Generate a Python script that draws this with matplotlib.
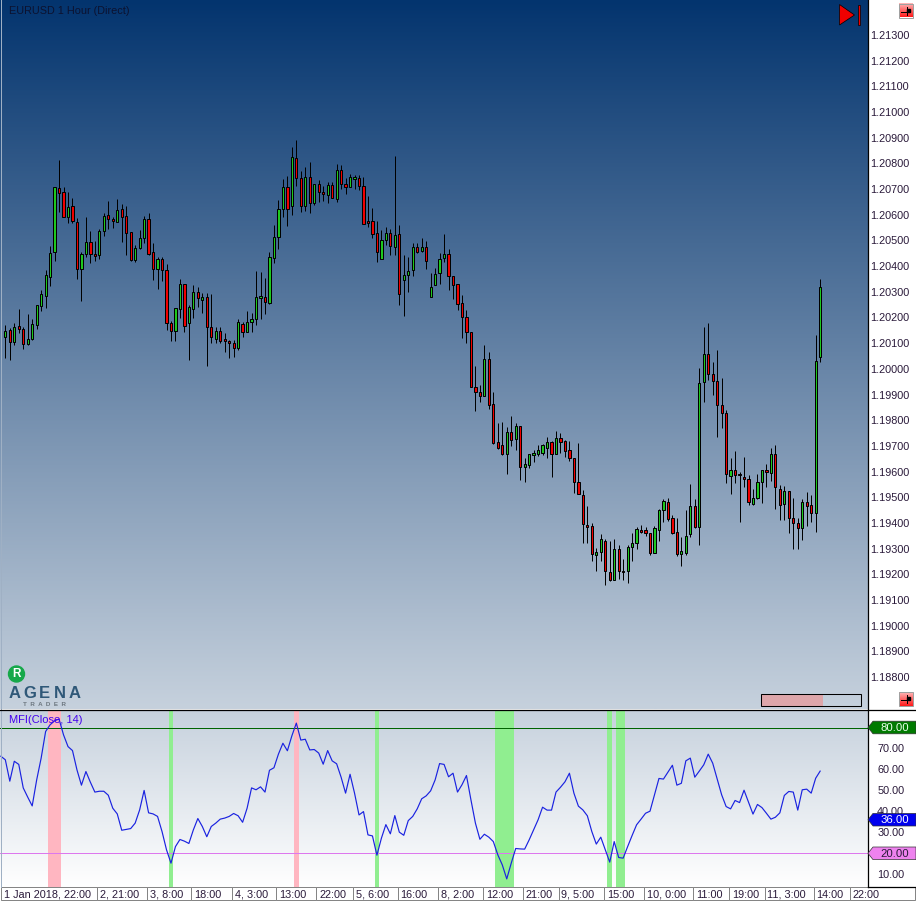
import numpy as np
import matplotlib
matplotlib.use("Agg")
import matplotlib.pyplot as plt
from matplotlib.patches import Polygon, Rectangle, Circle

# Prices are in points (1e-5)
highs = [
    120171, 120158, 120177, 120232, 120164, 120212, 120193, 120247, 120307, 120385,
    120478, 120709, 120813, 120707, 120689, 120664, 120589, 120456, 120590, 120537,
    120498, 120543, 120605, 120654, 120590, 120661, 120641, 120633, 120532, 120481,
    120541, 120595, 120607, 120489, 120437, 120434, 120407, 120188, 120236, 120349,
    120329, 120249, 120326, 120317, 120297, 120297, 120291, 120162, 120162, 120138,
    120112, 120112, 120193, 120181, 120224, 120216, 120380, 120376, 120352, 120456,
    120560, 120656, 120738, 120751, 120865, 120891, 120770, 120785, 120804, 120720,
    120735, 120712, 120728, 120728, 120796, 120792, 120742, 120757, 120753, 120753,
    120746, 120673, 120625, 120574, 120539, 120551, 120543, 120829, 120559, 120442,
    120434, 120489, 120489, 120508, 120496, 120372, 120391, 120450, 120524, 120465,
    120360, 120329, 120286, 120228, 120145, 120010, 119936, 120092, 120065, 119908,
    119788, 119792, 119773, 119818, 119788, 119776, 119654, 119670, 119683, 119703,
    119706, 119734, 119718, 119757, 119749, 119722, 119718, 119652, 119710, 119527,
    119465, 119399, 119301, 119356, 119336, 119329, 119336, 119313, 119259, 119313,
    119360, 119383, 119391, 119383, 119360, 119388, 119453, 119492, 119496, 119430,
    119418, 119347, 119449, 119550, 119492, 120002, 120162, 120177, 120025, 120072,
    119963, 119839, 119652, 119679, 119597, 119656, 119585, 119531, 119589, 119605,
    119628, 119691, 119702, 119546, 119543, 119523, 119496, 119418, 119492, 119519,
    119508, 120131, 120349,
]
lows = [
    120044, 120034, 120093, 120141, 120079, 120093, 120112, 120155, 120225, 120238,
    120324, 120421, 120612, 120590, 120569, 120569, 120351, 120265, 120437, 120413,
    120421, 120429, 120517, 120546, 120550, 120573, 120495, 120445, 120421, 120417,
    120465, 120489, 120442, 120347, 120312, 120343, 120151, 120110, 120110, 120198,
    120145, 120034, 120198, 120242, 120219, 120012, 120102, 120102, 120102, 120067,
    120044, 120047, 120075, 120125, 120145, 120145, 120171, 120193, 120215, 120251,
    120413, 120468, 120593, 120557, 120600, 120713, 120612, 120616, 120608, 120639,
    120651, 120655, 120647, 120664, 120651, 120702, 120682, 120709, 120702, 120698,
    120565, 120554, 120511, 120417, 120429, 120482, 120445, 120445, 120250, 120207,
    120300, 120363, 120450, 120456, 120390, 120278, 120325, 120332, 120416, 120308,
    120273, 120230, 120121, 120102, 119931, 119834, 119871, 119896, 119845, 119709,
    119686, 119665, 119592, 119700, 119684, 119567, 119561, 119612, 119639, 119662,
    119666, 119651, 119580, 119670, 119674, 119658, 119643, 119518, 119512, 119323,
    119323, 119250, 119211, 119253, 119160, 119172, 119176, 119183, 119179, 119165,
    119250, 119300, 119360, 119351, 119277, 119284, 119331, 119405, 119409, 119358,
    119273, 119234, 119277, 119347, 119382, 119315, 119872, 119957, 119900, 119736,
    119771, 119557, 119514, 119557, 119405, 119541, 119471, 119471, 119492, 119476,
    119541, 119565, 119453, 119413, 119413, 119362, 119300, 119297, 119335, 119389,
    119405, 119366, 120028,
]
body_tops = [
    120147, 120151, 120162, 120165, 120154, 120117, 120173, 120247, 120291, 120364,
    120450, 120707, 120703, 120687, 120629, 120633, 120573, 120446, 120493, 120493,
    120446, 120535, 120594, 120598, 120583, 120617, 120621, 120594, 120532, 120469,
    120508, 120582, 120582, 120454, 120426, 120426, 120384, 120177, 120236, 120329,
    120329, 120239, 120298, 120298, 120278, 120278, 120164, 120146, 120146, 120115,
    120107, 120099, 120181, 120173, 120181, 120193, 120278, 120282, 120281, 120434,
    120515, 120621, 120707, 120707, 120824, 120820, 120742, 120746, 120746, 120718,
    120718, 120689, 120715, 120715, 120773, 120773, 120721, 120746, 120746, 120742,
    120711, 120574, 120574, 120528, 120500, 120528, 120528, 120520, 120524, 120364,
    120380, 120473, 120473, 120473, 120473, 120317, 120371, 120426, 120446, 120446,
    120360, 120329, 120255, 120201, 120143, 119928, 119908, 120037, 120037, 119862,
    119714, 119703, 119753, 119753, 119776, 119776, 119629, 119667, 119671, 119683,
    119703, 119714, 119714, 119730, 119730, 119718, 119683, 119652, 119561, 119508,
    119391, 119387, 119286, 119336, 119329, 119208, 119298, 119298, 119212, 119305,
    119321, 119375, 119372, 119372, 119360, 119379, 119449, 119484, 119480, 119418,
    119363, 119289, 119348, 119465, 119465, 119944, 120057, 120057, 119979, 119951,
    119858, 119827, 119605, 119605, 119589, 119578, 119570, 119496, 119558, 119605,
    119605, 119667, 119667, 119534, 119523, 119523, 119418, 119399, 119480, 119480,
    119469, 120029, 120318,
]
body_bottoms = [
    120125, 120106, 120106, 120156, 120095, 120095, 120117, 120172, 120246, 120285,
    120359, 120454, 120686, 120593, 120593, 120577, 120387, 120390, 120447, 120446,
    120441, 120445, 120535, 120582, 120577, 120573, 120593, 120530, 120425, 120425,
    120469, 120508, 120448, 120390, 120390, 120384, 120177, 120149, 120149, 120232,
    120165, 120177, 120232, 120275, 120269, 120164, 120123, 120117, 120107, 120110,
    120099, 120080, 120080, 120145, 120145, 120181, 120193, 120277, 120259, 120255,
    120430, 120512, 120621, 120621, 120633, 120742, 120633, 120633, 120647, 120647,
    120687, 120682, 120678, 120667, 120663, 120721, 120709, 120709, 120740, 120713,
    120565, 120569, 120526, 120456, 120429, 120500, 120477, 120473, 120293, 120345,
    120364, 120384, 120454, 120458, 120419, 120278, 120325, 120372, 120430, 120360,
    120325, 120254, 120201, 120142, 119931, 119908, 119896, 119896, 119861, 119713,
    119693, 119669, 119670, 119721, 119725, 119619, 119619, 119627, 119666, 119670,
    119674, 119690, 119670, 119670, 119717, 119682, 119651, 119561, 119512, 119394,
    119386, 119278, 119277, 119286, 119211, 119179, 119176, 119211, 119207, 119214,
    119305, 119321, 119366, 119359, 119284, 119284, 119374, 119452, 119417, 119362,
    119280, 119280, 119284, 119358, 119386, 119386, 119948, 119979, 119951, 119858,
    119827, 119589, 119582, 119585, 119585, 119570, 119480, 119475, 119496, 119558,
    119597, 119593, 119539, 119469, 119473, 119421, 119399, 119379, 119379, 119465,
    119437, 119437, 120045,
]
# G = up candle, R = down candle
directions = (
    "GRGRRGGGGG" "GGRRGRRGGR" "RGGRRGRRRG" "GGRRGRRRGG" "RGGRGRRGRR"
    "RRGRGGGGRG" "GGGRGRRGRG" "RRGRGRRGGR" "RRRRGGRGRG" "GGRGRGGGGR"
    "RRRRRRRGRR" "RRGRGRGGGG" "GGRGRRRRRR" "RRGGRRGRRG" "GGRRRGGGRR"
    "RGGGRGGRRR" "RRGRRRRGGG" "RGRRGRRRGR" "RGG"
)

# MFI starts one bar before the first visible candle
mfi_values = [
    66.3, 64.6, 54.4, 63.9, 62.4, 51.2, 46.8, 42.6, 55.0, 65.4, 78.1, 81.3, 83.2, 84.0,
    76.5, 70.9, 69.0, 59.8, 52.5, 59.0, 53.9, 49.2, 49.6, 49.6, 47.7, 41.5, 38.8, 31.0,
    31.4, 31.8, 34.4, 40.7, 50.0, 39.3, 38.8, 37.6, 30.4, 21.7, 15.3, 23.2, 26.6, 25.8,
    24.7, 31.2, 36.6, 32.8, 27.9, 32.8, 34.4, 36.3, 36.8, 37.6, 39.0, 37.9, 34.8, 41.5,
    51.2, 50.3, 51.7, 49.2, 59.6, 60.8, 67.3, 72.5, 68.9, 76.0, 82.1, 74.0, 74.4, 69.3,
    69.5, 67.8, 62.5, 69.0, 64.1, 62.7, 56.3, 48.7, 57.7, 48.7, 38.3, 39.9, 28.8, 28.3,
    19.1, 27.2, 33.7, 29.3, 38.0, 30.1, 28.6, 35.6, 37.6, 41.2, 46.0, 47.4, 49.8, 55.0,
    62.8, 62.4, 56.5, 58.2, 49.2, 52.7, 57.1, 45.5, 34.4, 26.7, 29.1, 27.7, 25.6, 19.3,
    14.5, 7.8, 15.3, 22.3, 22.1, 22.0, 26.4, 31.2, 36.0, 42.0, 40.6, 40.6, 49.2, 51.5,
    54.1, 58.2, 48.7, 42.5, 40.7, 37.9, 30.4, 24.4, 27.7, 21.7, 15.8, 25.6, 18.0, 17.7,
    23.2, 28.5, 33.6, 36.3, 39.1, 40.1, 47.9, 55.7, 55.4, 58.7, 62.0, 52.5, 53.4, 64.1,
    65.4, 56.3, 59.2, 62.2, 67.3, 63.0, 55.5, 47.9, 42.3, 41.2, 45.2, 44.2, 50.1, 44.4,
    38.7, 43.3, 41.8, 39.1, 36.3, 37.2, 39.3, 47.6, 49.5, 49.2, 40.6, 50.3, 50.6, 48.7,
    55.8, 59.2,
]
overbought_bars = [10, 11, 12, 65]
oversold_bars = [37, 83, 110, 111, 112, 113, 135, 137, 138]

price_ticks = [1.188 + 0.001 * n for n in range(26)]
mfi_ticks = [10, 30, 40, 50, 60, 70]
upper_level = 80
lower_level = 20
last_marker = 36

time_labels = [
    "1 Jan 2018, 22:00", "2, 21:00", "3, 8:00", "18:00", "4, 3:00", "13:00", "22:00",
    "5, 6:00", "16:00", "8, 2:00", "12:00", "21:00", "9, 5:00", "15:00", "10, 0:00",
    "11:00", "19:00", "11, 3:00", "14:00", "22:00",
]
# where each time box starts, in bars
time_positions = [
    -0.9, 20.5, 31.6, 41.5, 50.6, 60.5, 69.5, 77.6, 87.6, 96.6,
    106.8, 115.6, 123.6, 133.7, 142.7, 153.7, 161.7, 169.6, 180.6, 188.7,
]

WIDTH, HEIGHT = 916, 901
BAR_STEP = 4.477
BAR_ZERO = 5.33
PLOT_RIGHT = 867.5
PRICE_BOTTOM = 709.5
MFI_BOTTOM = 886.5
FONT = "Liberation Sans"
TEXT_COLOR = "#2a1a3a"
UP_COLOR = "#1ec81e"
DOWN_COLOR = "#f00000"
BAND_GREEN = "#90ee90"
BAND_PINK = "#ffb6c1"
LINE_PX = 0.72


def panel_axes(fig, top, bottom, right=PLOT_RIGHT):
    ax = fig.add_axes([0, 1 - bottom / HEIGHT, right / WIDTH, (bottom - top) / HEIGHT])
    ax.set_xlim(-BAR_ZERO / BAR_STEP, (right - BAR_ZERO) / BAR_STEP)
    for spine in ax.spines.values():
        spine.set_visible(False)
    ax.set_xticks([])
    ax.yaxis.tick_right()
    return ax


def paint_gradient(ax, top_rgb, bottom_rgb):
    ramp = np.linspace(0, 1, 256)[:, None, None]
    grad = np.array(top_rgb) + ramp * (np.array(bottom_rgb) - np.array(top_rgb))
    ax.imshow(grad / 255, extent=[0, 1, 0, 1], transform=ax.transAxes,
              aspect="auto", zorder=0, origin="upper")


def draw_candles(ax):
    bars = np.arange(len(highs))
    hi = np.array(highs) / 1e5
    lo = np.array(lows) / 1e5
    top = np.array(body_tops) / 1e5
    bottom = np.array(body_bottoms) / 1e5
    colors = [UP_COLOR if d == "G" else DOWN_COLOR for d in directions]
    ax.vlines(bars, lo, hi, color="black", lw=0.72, zorder=2)
    ax.bar(bars, top - bottom, bottom=bottom, width=0.5, color=colors,
           edgecolor="black", linewidth=0.72, zorder=3)


def draw_mfi(ax):
    for bar in overbought_bars:
        ax.axvspan(bar - 0.52, bar + 0.52, color=BAND_PINK, lw=0, zorder=1)
    for bar in oversold_bars:
        ax.axvspan(bar - 0.52, bar + 0.52, color=BAND_GREEN, lw=0, zorder=1)
    ax.axhline(upper_level, color="#006400", lw=LINE_PX, zorder=2)
    ax.axhline(lower_level, color="#dd77ee", lw=LINE_PX, zorder=2)
    ax.plot(np.arange(len(mfi_values)) - 1, mfi_values, color="#1a22e0", lw=0.85, zorder=3)


def draw_time_axis(fig):
    ax = fig.add_axes([0, 1 - 900.5 / HEIGHT, 1, 14 / HEIGHT])
    ax.set_xlim(-BAR_ZERO / BAR_STEP, (WIDTH - BAR_ZERO) / BAR_STEP)
    ax.set_ylim(-0.05, 1.05)
    ax.axis("off")
    edges = time_positions + [(915 - BAR_ZERO) / BAR_STEP]
    ax.bar(time_positions, 1, width=np.diff(edges), align="edge", color="white",
           edgecolor="#858585", linewidth=LINE_PX)
    for pos, label in zip(time_positions, time_labels):
        ax.annotate(label, (pos, 0.18), xytext=(2.0, 0), textcoords="offset points",
                    va="baseline", ha="left", fontsize=7.8, family=FONT, color=TEXT_COLOR)


def draw_flag(ov, y, text, fill, text_color):
    ov.add_patch(Polygon([(868, y), (873, y - 6.3), (916, y - 6.3), (916, y + 6.3), (873, y + 6.3)],
                         closed=True, facecolor=fill, edgecolor="#333333", lw=0.5, zorder=5))
    ov.text(895, y + 0.3, text, ha="center", va="center", fontsize=8.2, family=FONT,
            color=text_color, zorder=6)


def draw_button(ov, x, y):
    ramp = np.linspace(0, 1, 32)
    shade = np.zeros((32, 32, 3))
    shade[..., 0] = 1.0
    shade[..., 1] = 0.72 - 0.62 * ramp[:, None]
    shade[..., 2] = 0.72 - 0.62 * ramp[:, None]
    ov.imshow(shade, extent=[x, x + 14, y + 14, y], aspect="auto", zorder=5)
    ov.add_patch(Rectangle((x, y), 14, 14, fill=False, edgecolor="#a0a0a0", lw=LINE_PX, zorder=6))
    ov.plot([x + 2.5, x + 11.5], [y + 8, y + 8], color="black", lw=LINE_PX, zorder=7)
    ov.plot([x + 8, x + 8], [y + 3.5, y + 11.5], color="black", lw=LINE_PX, zorder=7)
    ov.add_patch(Rectangle((x + 8, y + 5.5), 3, 3, color="black", zorder=7))


def draw_logo(ov):
    ov.add_patch(Circle((16.5, 674), 8, color="#16a84a", zorder=5))
    ov.text(16.5, 674.3, "R", color="white", fontsize=8.5, fontweight="bold", family=FONT,
            ha="center", va="center", zorder=6)
    for k, letter in enumerate("AGENA"):
        ov.text(15 + 14.8 * k, 698.5, letter, color="#2f5878", fontsize=12, fontweight="bold",
                family=FONT, ha="center", va="baseline", zorder=5)
    ov.text(44.5, 706.5, "T  R  A  D  E  R", color="#6d7780", fontsize=4.5, fontweight="bold",
            family=FONT, ha="center", va="baseline", zorder=5)


def draw_chrome(fig):
    ov = fig.add_axes([0, 0, 1, 1], zorder=10)
    ov.patch.set_visible(False)
    ov.axis("off")

    ov.plot([0.5, 0.5], [0, MFI_BOTTOM], color="#9fb0c4", lw=LINE_PX)
    ov.plot([PLOT_RIGHT, PLOT_RIGHT], [0, MFI_BOTTOM], color="black", lw=0.9)
    ov.plot([0, WIDTH], [PRICE_BOTTOM, PRICE_BOTTOM], color="black", lw=0.9)
    ov.plot([PLOT_RIGHT, WIDTH], [MFI_BOTTOM, MFI_BOTTOM], color="black", lw=0.9)

    ov.text(9, 10.5, "EURUSD 1 Hour (Direct)", color="#0c1230", fontsize=7.8, family=FONT,
            ha="left", va="center")
    ov.text(9, 720, "MFI(Close, 14)", color="#4400ee", fontsize=8, family=FONT,
            ha="left", va="center")

    # red arrow marker at the top right
    ov.add_patch(Polygon([(839.5, 4.5), (839.5, 25), (854.5, 15)], closed=True,
                         facecolor="#f00000", edgecolor="black", lw=0.5))
    ov.add_patch(Rectangle((857.5, 4.5), 2.2, 20.5, facecolor="#f00000", edgecolor="black", lw=0.5))

    draw_button(ov, 898.5, 3.5)
    draw_button(ov, 898.5, 691.7)

    # scroll indicator
    ov.add_patch(Rectangle((760.5, 693.5), 62, 12, facecolor="#dea6aa", edgecolor="none"))
    ov.add_patch(Rectangle((760.5, 693.5), 100, 12, fill=False, edgecolor="black", lw=0.75))

    draw_logo(ov)

    draw_flag(ov, 727.5, "80.00", "#007a00", "#eaffea")
    draw_flag(ov, 819.7, "36.00", "#0000ee", "white")
    draw_flag(ov, 853.3, "20.00", "#ee82ee", TEXT_COLOR)

    ov.set_xlim(0, WIDTH)
    ov.set_ylim(HEIGHT, 0)


def main():
    fig = plt.figure(figsize=(WIDTH / 100, HEIGHT / 100), dpi=100, facecolor="white")

    ax_price = panel_axes(fig, 0, PRICE_BOTTOM)
    paint_gradient(ax_price, (3, 52, 110), (198, 209, 221))
    draw_candles(ax_price)
    ax_price.set_xlim(-BAR_ZERO / BAR_STEP, (PLOT_RIGHT - BAR_ZERO) / BAR_STEP)
    ax_price.set_ylim(1.213 - (PRICE_BOTTOM - 35) / 25680, 1.213 + 35 / 25680)
    ax_price.set_yticks(price_ticks)
    ax_price.set_yticklabels([f"{p:.5f}" for p in price_ticks], fontsize=7.8, family=FONT,
                             color=TEXT_COLOR)
    ax_price.tick_params(axis="y", length=0, pad=2.2)

    ax_mfi = panel_axes(fig, PRICE_BOTTOM, MFI_BOTTOM)
    paint_gradient(ax_mfi, (198, 209, 221), (255, 255, 255))
    draw_mfi(ax_mfi)
    ax_mfi.set_xlim(-BAR_ZERO / BAR_STEP, (PLOT_RIGHT - BAR_ZERO) / BAR_STEP)
    ax_mfi.set_ylim(80 - (MFI_BOTTOM - 727.5) / 2.097, 80 - (PRICE_BOTTOM - 727.5) / 2.097)
    ax_mfi.set_yticks(mfi_ticks)
    ax_mfi.set_yticklabels([f"{v:.2f}" for v in mfi_ticks], fontsize=7.8, family=FONT,
                           color=TEXT_COLOR)
    ax_mfi.tick_params(axis="y", length=0, pad=7)

    draw_time_axis(fig)
    draw_chrome(fig)

    fig.savefig("out.png", dpi=100)
    plt.close(fig)


if __name__ == "__main__":
    main()
